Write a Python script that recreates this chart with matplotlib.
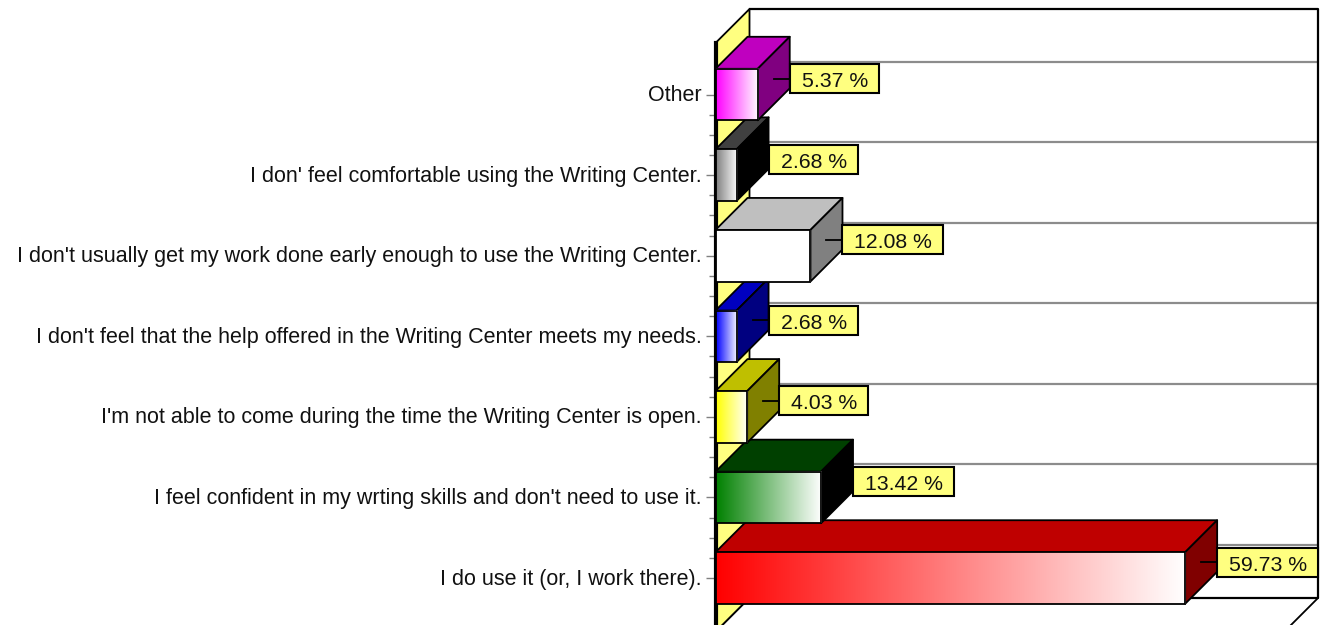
import numpy as np
import matplotlib
matplotlib.use("Agg")
import matplotlib.pyplot as plt
from matplotlib.colors import to_rgb
from matplotlib.patches import Polygon, Rectangle
from matplotlib.transforms import Affine2D, IdentityTransform

plt.rcParams['font.family'] = ['Liberation Sans', 'DejaVu Sans']

categories = [
    "I do use it (or, I work there).",
    "I feel confident in my wrting skills and don't need to use it.",
    "I'm not able to come during the time the Writing Center is open.",
    "I don't feel that the help offered in the Writing Center meets my needs.",
    "I don't usually get my work done early enough to use the Writing Center.",
    "I don' feel comfortable using the Writing Center.",
    "Other",
]
values = [59.73, 13.42, 4.03, 2.68, 12.08, 2.68, 5.37]
face_colors = ['#ff0000', '#008000', '#ffff00', '#0000ff', '#ffffff', '#808080', '#ff00ff']
top_colors = ['#bf0000', '#004000', '#bfbf00', '#0000bf', '#bfbfbf', '#404040', '#bf00bf']
side_colors = ['#800000', '#000000', '#808000', '#000080', '#808080', '#000000', '#800080']

W, H = 1322, 625
BAR_D, WALL_D, GRID_D = 32, 34, 33
TXT = '#111111'

fig = plt.figure(figsize=(W / 100, H / 100), dpi=100, facecolor='white')
ax = fig.add_axes([715.5 / W, -7 / H, 568.5 / W, 589 / H])
XMAX, YMIN, YMAX = 72.3, -0.67, 6.64
BAR_H = 0.32


def depth(d):
    return ax.transData + Affine2D().translate(d, d)


def poly(pts, d_pts, fc, z, lw=1.3):
    """pts in data coordinates, d_pts the depth in pixels of each point"""
    disp = [ax.transData.transform(p) + np.array([d, d]) for p, d in zip(pts, d_pts)]
    ax.add_patch(Polygon(disp, closed=True, fc=fc, ec='black', lw=lw, joinstyle='round',
                         transform=IdentityTransform(), zorder=z, clip_on=False))


ax.set_xlim(0, XMAX)
ax.set_ylim(YMIN, YMAX)
ax.patch.set_visible(False)
for s in ['top', 'right', 'bottom']:
    ax.spines[s].set_visible(False)
ax.spines['left'].set_linewidth(3.0)
ax.spines['left'].set_color('black')
ax.spines['left'].set_zorder(3)
ax.set_xticks([])
ax.set_yticks(range(len(categories)), categories, fontsize=15.5, color=TXT)
ax.set_yticks([i / 4 for i in range(25) if i % 4], minor=True)
ax.tick_params(axis='y', which='major', length=7.2, width=1.0, color='#808080', pad=2.5)
ax.tick_params(axis='y', which='minor', length=5, width=1.0, color='#808080')
for lab in ax.get_yticklabels():
    lab.set_transform(lab.get_transform() + Affine2D().translate(0, 1.5))

# walls and frame
poly([(0, YMIN), (0, YMAX), (0, YMAX), (0, YMIN)], [0, 0, WALL_D, WALL_D], '#ffff80', 1)
poly([(0, YMIN), (XMAX, YMIN), (XMAX, YMIN), (0, YMIN)], [0, 0, WALL_D, WALL_D], 'white', 1)
back = depth(WALL_D)
ax.plot([0, XMAX, XMAX, 0], [YMAX, YMAX, YMIN, YMIN], color='black', lw=1.6,
        transform=back, clip_on=False, zorder=1.5)
for i in range(len(categories)):
    ax.plot([0, XMAX], [i, i], color='#8c8c8c', lw=1.6, transform=depth(GRID_D),
            clip_on=False, zorder=1.2, solid_capstyle='butt')

fig.canvas.draw()
renderer = fig.canvas.get_renderer()

# bars: lowest category first, so that upper bars overlap the ones below
for i, (v, fc, tc, sc) in enumerate(zip(values, face_colors, top_colors, side_colors)):
    z = 4 + i
    y0, y1 = i - BAR_H, i + BAR_H
    poly([(0, y1), (v, y1), (v, y1), (0, y1)], [0, 0, BAR_D, BAR_D], tc, z)
    poly([(v, y0), (v, y1), (v, y1), (v, y0)], [0, 0, BAR_D, BAR_D], sc, z)
    base = np.array(to_rgb(fc))
    t = np.linspace(0, 1, 256)[:, None]
    grad = (base * (1 - t) + t)[None, :, :]
    ax.imshow(grad, extent=(0, v, y0, y1), aspect='auto', zorder=z + 0.1, clip_on=False,
              interpolation='bilinear')
    ax.add_patch(Rectangle((0, y0), v, y1 - y0, fc='none', ec='black', lw=1.3, zorder=z + 0.2,
                           clip_on=False))

ax.set_xlim(0, XMAX)
ax.set_ylim(YMIN, YMAX)

# value labels
for i, v in enumerate(values):
    px, py = ax.transData.transform((v, i))
    left, cy = px + BAR_D, py + BAR_D / 2
    z = 20
    ax.plot([px + BAR_D / 2, left], [cy, cy], color='black', lw=1.3,
            transform=IdentityTransform(), zorder=z, clip_on=False)
    t = ax.text(left + 12, cy - 1, f"{v:.2f} %", fontsize=15.3, color=TXT, ha='left', va='center_baseline',
                transform=IdentityTransform(), zorder=z + 2)
    w = t.get_window_extent(renderer).width
    ax.add_patch(Rectangle((left, cy - 14.5), w + 23, 29, fc='#ffff80', ec='black', lw=1.5,
                           transform=IdentityTransform(), zorder=z + 1, clip_on=False))

fig.savefig('out.png', dpi=100)
